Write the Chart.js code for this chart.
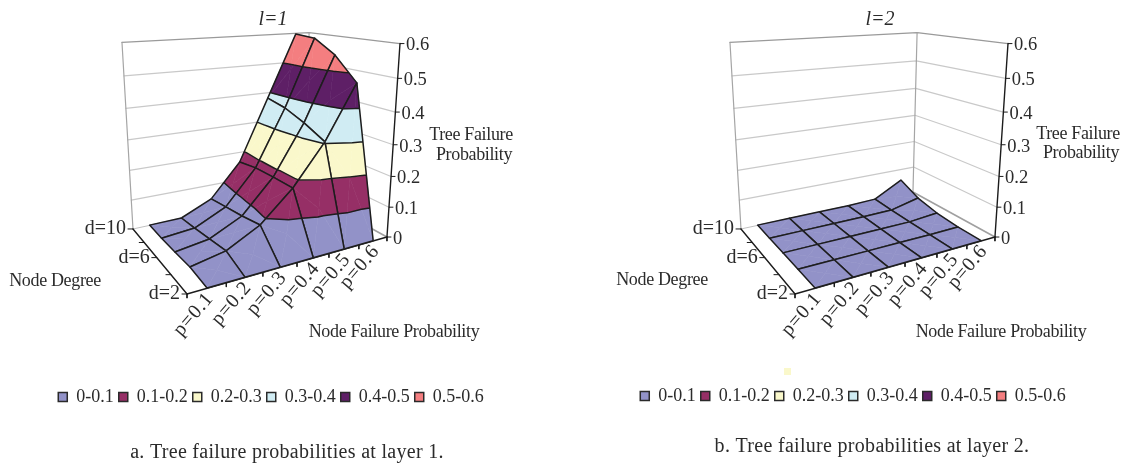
<!DOCTYPE html>
<html>
<head>
<meta charset="utf-8">
<script src="https://cdn.jsdelivr.net/npm/chart.js@4"></script>
<style>
  body { margin: 0; background: #fff; }
  canvas { position: absolute; top: 0; }
  #layer1 { left: 0; }
  #layer2 { left: 582px; }
</style>
</head>
<body>
<canvas id="layer1" width="542" height="463"></canvas>
<canvas id="layer2" width="542" height="463"></canvas>
<script>
const pLabels = ['p=0.1', 'p=0.2', 'p=0.3', 'p=0.4', 'p=0.5', 'p=0.6'];
const dLabels = ['d=2', 'd=4', 'd=6', 'd=8', 'd=10'];
const dShown = ['d=2', 'd=6', 'd=10'];
const zTicks = [0, 0.1, 0.2, 0.3, 0.4, 0.5, 0.6];
const bandLabels = ['0-0.1', '0.1-0.2', '0.2-0.3', '0.3-0.4', '0.4-0.5', '0.5-0.6'];
const bandColors = ['#9292c8', '#962f66', '#faf8cb', '#d0ecf3', '#5e1f66', '#f47e80'];

// Tree failure probability, one row per node degree, p=0.1 .. p=0.6
const layer1D2 = [0.001, 0.001, 0.001, 0.001, 0.001, 0.001];
const layer1D4 = [0.008, 0.029, 0.084, 0.178, 0.305, 0.475];
const layer1D6 = [0.004, 0.019, 0.07, 0.178, 0.34, 0.548];
const layer1D8 = [0.001, 0.01, 0.06, 0.176, 0.367, 0.592];
const layer1D10 = [0.001, 0.002, 0.049, 0.165, 0.381, 0.598];

const layer2D2 = [0.001, 0.001, 0.001, 0.001, 0.001, 0.001];
const layer2D4 = [0.001, 0.001, 0.001, 0.001, 0.001, 0.002];
const layer2D6 = [0.001, 0.001, 0.001, 0.001, 0.001, 0.009];
const layer2D8 = [0.001, 0.001, 0.001, 0.001, 0.002, 0.025];
const layer2D10 = [0.001, 0.001, 0.001, 0.001, 0.004, 0.058];

const zMax = 0.6;
const legendGap = { layer1: 47, layer2: 48 };
const textColor = '#2b2b2b';
const serif = '"Liberation Serif", serif';

// Perspective of the Excel style box: u along p, v along d, t = z / zMax
function makeProjection(shiftX) {
  return function (u, v, z) {
    const t = z / zMax;
    const w = 1 + 0.2231 * u + 0.2692 * v - 0.1076 * t;
    return {
      x: (286.3 * u - 18.2 * v - 27.1 * t + 187) / w + shiftX,
      y: (-4.1 * u - 3.4 * v - 241.3 * t + 294) / w
    };
  };
}

function lineDataset(points, color, width) {
  return {
    data: points, showLine: true, pointRadius: 0, fill: false, tension: 0,
    borderColor: color, borderWidth: width, borderCapStyle: 'round', borderJoinStyle: 'round'
  };
}

function polygonDataset(points, color) {
  return {
    data: points.concat([points[0]]), showLine: true, pointRadius: 0, fill: 'shape', tension: 0,
    backgroundColor: color, borderColor: color, borderWidth: 0.6
  };
}

// keep the part of a polygon on one side of a z level
function clipPolygon(poly, level, keepAbove) {
  const out = [];
  for (let i = 0; i < poly.length; i++) {
    const a = poly[i], b = poly[(i + 1) % poly.length];
    const aIn = keepAbove ? a.z >= level : a.z <= level;
    const bIn = keepAbove ? b.z >= level : b.z <= level;
    if (aIn) out.push(a);
    if (aIn !== bIn) out.push(crossing(a, b, level));
  }
  return out;
}

function crossing(a, b, level) {
  const s = (level - a.z) / (b.z - a.z);
  return { u: a.u + (b.u - a.u) * s, v: a.v + (b.v - a.v) * s, z: level };
}

function buildDatasets(rows, project) {
  const sets = [];
  const wall = (z) => [project(0, 1, z), project(1, 1, z), project(1, 0, z)];

  // back walls
  zTicks.slice(1, -1).forEach(z => sets.push(lineDataset(wall(z), '#c9c9c9', 1.2)));
  sets.push(lineDataset(wall(zMax), '#9a9a9a', 1.3));
  sets.push(lineDataset([project(0, 1, 0), project(0, 1, zMax)], '#a5a5a5', 1.2));
  sets.push(lineDataset([project(1, 1, 0), project(1, 1, zMax)], '#a5a5a5', 1.2));
  sets.push(lineDataset([project(0, 1, 0), project(1, 1, 0)], '#c0c0c0', 1));
  sets.push(lineDataset([project(1, 1, 0), project(1, 0, 0)], '#a0a0a0', 1.6));

  // front axes and their ticks
  sets.push(lineDataset([project(0, 1, 0), project(0, 0, 0), project(1, 0, 0)], '#1c1c1c', 1.4));
  sets.push(lineDataset([project(1, 0, 0), project(1, 0, zMax)], '#1c1c1c', 1.4));
  zTicks.forEach(z => {
    const a = project(1, 0, z);
    sets.push(lineDataset([a, { x: a.x + 4, y: a.y }], '#1c1c1c', 1));
  });
  dLabels.forEach((d, k) => {
    const a = project(0, k / (dLabels.length - 1), 0);
    sets.push(lineDataset([a, { x: a.x - 5, y: a.y }], '#1c1c1c', 1));
  });
  for (let k = 0; k <= pLabels.length; k++) {
    const a = project(k / pLabels.length, 0, 0);
    sets.push(lineDataset([a, { x: a.x, y: a.y + 4 }], '#1c1c1c', 1));
  }

  // surface, far cells first
  const vertex = (i, j) => ({
    u: (2 * i + 1) / (2 * pLabels.length),
    v: j / (dLabels.length - 1),
    z: rows[j][i]
  });
  for (let j = dLabels.length - 2; j >= 0; j--) {
    for (let i = pLabels.length - 2; i >= 0; i--) {
      const a = vertex(i, j), b = vertex(i + 1, j), c = vertex(i + 1, j + 1), d = vertex(i, j + 1);
      const mid = {
        u: (a.u + b.u) / 2, v: (a.v + d.v) / 2,
        z: (a.z + b.z + c.z + d.z) / 4
      };
      const lines = [];
      [[d, c], [c, b], [d, a], [a, b]].forEach(([p, q]) => {
        const tri = [p, q, mid];
        bandColors.forEach((color, n) => {
          const lo = n / 10, hi = (n + 1) / 10;
          const part = clipPolygon(clipPolygon(tri, lo, true), hi, false);
          if (part.length > 2) {
            sets.push(polygonDataset(part.map(w => project(w.u, w.v, w.z)), color));
          }
        });
        // contour between two bands
        for (let n = 1; n < bandColors.length; n++) {
          const level = n / 10;
          const hits = [];
          tri.forEach((s, k) => {
            const e = tri[(k + 1) % 3];
            if ((s.z - level) * (e.z - level) < 0) hits.push(crossing(s, e, level));
          });
          if (hits.length === 2) {
            lines.push(project(hits[0].u, hits[0].v, level), project(hits[1].u, hits[1].v, level), { x: null, y: null });
          }
        }
      });
      [a, b, c, d, a].forEach(w => lines.push(project(w.u, w.v, w.z)));
      sets.push(lineDataset(lines, '#1d1d1d', 1.5));
    }
  }
  return sets.reverse(); // chart.js paints the first dataset last
}

const axisText = {
  id: 'axisText',
  // the legend takes part of the canvas, keep one y unit equal to one pixel
  afterLayout(chart) {
    const y = chart.scales.y;
    y.min = chart.chartArea.top;
    y.max = chart.chartArea.bottom;
    y.configure();
  },
  afterDraw(chart, args, opts) {
    const { ctx, scales: { x, y } } = chart;
    const project = opts.project;
    const put = (text, px, py, font, align, spacing) => {
      ctx.font = font;
      ctx.textAlign = align;
      ctx.letterSpacing = spacing || '0px';
      ctx.fillText(text, x.getPixelForValue(px), y.getPixelForValue(py));
    };
    ctx.save();
    ctx.fillStyle = textColor;
    ctx.textBaseline = 'middle';

    zTicks.forEach(z => {
      const a = project(1, 0, z);
      put(String(z), a.x + 6, a.y + 2, '18.5px ' + serif, 'left');
    });
    dShown.forEach(label => {
      const a = project(0, dLabels.indexOf(label) / (dLabels.length - 1), 0);
      put(label, a.x - 7, a.y, '20px ' + serif, 'right');
    });
    pLabels.forEach((label, i) => {
      const a = project((2 * i + 1) / (2 * pLabels.length), 0, 0);
      ctx.save();
      ctx.translate(x.getPixelForValue(a.x + 3), y.getPixelForValue(a.y + 7));
      ctx.rotate(-Math.PI * 0.275);
      ctx.font = '20px ' + serif;
      ctx.letterSpacing = '0.8px';
      ctx.textAlign = 'right';
      ctx.fillText(label, 0, 0);
      ctx.restore();
    });

    opts.texts.forEach(t => put(t.text, t.x, t.y + 1, t.font || ('18px ' + serif), 'center', t.spacing || '-0.35px'));
    if (opts.speck) {
      ctx.fillStyle = bandColors[2];
      ctx.fillRect(x.getPixelForValue(opts.speck.x), y.getPixelForValue(opts.speck.y), 7, 7);
    }
    ctx.restore();
  }
};

function drawLayer(id, rows, shiftX, texts, speck) {
  const project = makeProjection(shiftX);
  return new Chart(document.getElementById(id), {
    type: 'scatter',
    data: { datasets: buildDatasets(rows, project) },
    plugins: [axisText],
    options: {
      responsive: false,
      animation: false,
      events: [],
      layout: { padding: { bottom: legendGap[id] } },
      scales: {
        x: { type: 'linear', display: false, min: 0, max: 542 },
        y: { type: 'linear', display: false, reverse: true, min: 0, max: 400 }
      },
      plugins: {
        tooltip: { enabled: false },
        legend: {
          position: 'bottom',
          labels: {
            boxWidth: 9,
            boxHeight: 9,
            padding: 5,
            color: textColor,
            font: { family: serif, size: 18 },
            generateLabels: () => bandLabels.map((text, n) => ({
              text, fillStyle: bandColors[n], strokeStyle: '#2a2a2a', lineWidth: 1.5, fontColor: textColor
            }))
          }
        },
        axisText: { project, texts, speck }
      }
    }
  });
}

drawLayer('layer1', [layer1D2, layer1D4, layer1D6, layer1D8, layer1D10], 0, [
  { text: 'l=1', x: 273, y: 19, font: 'italic 20px ' + serif, spacing: '0px' },
  { text: 'Tree Failure', x: 471, y: 134 },
  { text: 'Probability', x: 474, y: 154 },
  { text: 'Node Degree', x: 55, y: 280 },
  { text: 'Node Failure Probability', x: 394, y: 331 },
  { text: 'a. Tree failure probabilities at layer 1.', x: 287, y: 452, font: '20px ' + serif, spacing: '0.3px' }
]);

drawLayer('layer2', [layer2D2, layer2D4, layer2D6, layer2D8, layer2D10], 26, [
  { text: 'l=2', x: 298, y: 19, font: 'italic 20px ' + serif, spacing: '0px' },
  { text: 'Tree Failure', x: 496, y: 133 },
  { text: 'Probability', x: 499, y: 152 },
  { text: 'Node Degree', x: 80, y: 279 },
  { text: 'Node Failure Probability', x: 419, y: 331 },
  { text: 'b. Tree failure probabilities at layer 2.', x: 290, y: 446, font: '20px ' + serif, spacing: '0.3px' }
], { x: 202, y: 368 });
</script>
</body>
</html>
